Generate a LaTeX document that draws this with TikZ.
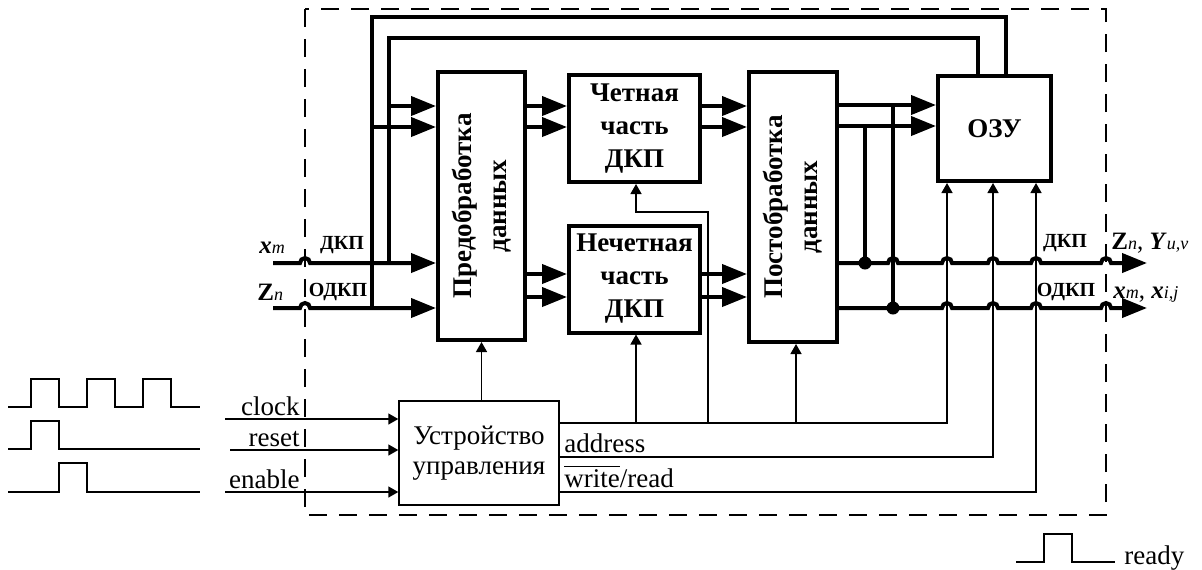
\documentclass[tikz,border=0pt]{standalone}
\usepackage{fontspec}
\setmainfont{Liberation Serif}
\usetikzlibrary{arrows.meta,calc,positioning}

\begin{document}
\begin{tikzpicture}[x=0.5pt,y=0.5pt,>=Triangle]
    \tikzset{
      block/.style={draw,line width=2pt,align=center,inner sep=0pt,font=\fontsize{13.5}{16.5}\selectfont\bfseries},
      vtext/.style={rotate=90,align=center,inner sep=0pt,font=\fontsize{13.5}{17.5}\selectfont\bfseries},
      ctrlbox/.style={draw,line width=0.7pt,align=center,inner sep=0pt,font=\fontsize{13.5}{15}\selectfont},
      bus/.style={line width=2pt},
      busarr/.style={line width=2pt,-{Triangle[length=12.5pt,width=9.5pt]}},
      sig/.style={line width=0.7pt},
      sigarr/.style={line width=0.7pt,-{Triangle[length=5pt,width=5.5pt]}},
      jdot/.style={circle,fill,inner sep=0pt,minimum size=6.5pt},
      lbl/.style={inner sep=0pt,font=\fontsize{13.5}{15}\selectfont},
      buslbl/.style={inner sep=0pt,font=\fontsize{10}{12}\selectfont\bfseries},
      varlbl/.style={inner sep=0pt,anchor=west,font=\fontsize{12.5}{14}\selectfont}
    }
    \useasboundingbox (0,0) rectangle (1202,-569);

    % dashed frame of the device
    \draw[sig,dash pattern=on 9pt off 6pt] (305,-9) rectangle (1106,-515);

    % blocks
    \node[block,minimum width=43.5pt,minimum height=134pt] (pre) at (481.5,-206) {};
    \node[vtext] (pretxt) at (pre.center) {Предобработка\\данных};
    \node[block,minimum width=65.5pt,minimum height=53.5pt] (even) at (634.5,-128.5) {Четная\\часть\\ДКП};
    \node[block,minimum width=65.5pt,minimum height=53.5pt] (odd) at (634.5,-279) {Нечетная\\часть\\ДКП};
    \node[block,minimum width=44pt,minimum height=135pt] (post) at (793,-207) {};
    \node[vtext] (posttxt) at (post.center) {Постобработка\\данных};
    \node[block,minimum width=56.5pt,minimum height=52.5pt] (ram) at (994.5,-128.5) {ОЗУ};
    \node[ctrlbox,minimum width=80pt,minimum height=52pt] (ctrl) at (479,-453) {Устройство\\управления};

    % inputs
    \coordinate (xin) at (273,-263);
    \coordinate (zin) at (273,-308);
    \draw[busarr] (xin) -- (300,-263) arc[start angle=180,end angle=0,radius=2.5pt] -- (pre.west |- xin);
    \draw[busarr] (zin) -- (300,-308) arc[start angle=180,end angle=0,radius=2.5pt] -- (pre.west |- zin);
    \node[buslbl] (inA) at (342,-245) {ДКП};
    \node[buslbl] (inB) at (338,-292) {ОДКП};
    \node[varlbl] (xm) at (259,-248) {\textbf{\textit{x}}{\fontsize{9}{9}\selectfont\itshape m}};
    \node[varlbl] (zn) at (257,-292) {\textbf{Z}{\fontsize{9}{9}\selectfont\itshape n}};

    % feedback from RAM
    \coordinate (fbA) at (389,-38);
    \coordinate (fbB) at (372,-17);
    \draw[bus] (389,-263) -- (fbA) -- (978,-38) -- (978,0 |- ram.north);
    \draw[bus] (372,-308) -- (fbB) -- (1006,-17) -- (1006,0 |- ram.north);
    \draw[busarr] (389,-106) -- (pre.west |- 0,-106);
    \draw[busarr] (372,-127) -- (pre.west |- 0,-127);

    % data path
    \foreach \y in {-106,-127} {
      \draw[busarr] (pre.east |- 0,\y) -- (even.west |- 0,\y);
      \draw[busarr] (even.east |- 0,\y) -- (post.west |- 0,\y);
    }
    \foreach \y in {-274,-297} {
      \draw[busarr] (pre.east |- 0,\y) -- (odd.west |- 0,\y);
      \draw[busarr] (odd.east |- 0,\y) -- (post.west |- 0,\y);
    }
    \foreach \y in {-105,-126} \draw[busarr] (post.east |- 0,\y) -- (ram.west |- 0,\y);

    % control signals
    \draw[sigarr] (pre.south |- ctrl.north) -- (pre.south);
    \draw[sigarr] (ctrl.east |- 0,-423) -| (947,0 |- ram.south);
    \draw[sigarr] (ctrl.east |- 0,-457) -| (993,0 |- ram.south);
    \draw[sigarr] (ctrl.east |- 0,-492) -| (1036,0 |- ram.south);
    \draw[sigarr] (636,-423) -- (636,0 |- odd.south);
    \draw[sigarr] (796,-423) -- (796,0 |- post.south);
    \draw[sigarr] (708,-423) -- (708,-212) -- (636,-212) -- (636,0 |- even.south);
    \node[lbl,anchor=base west] (addr) at (564,-452) {address};
    \node[lbl,anchor=base west] (wr) at (564,-487) {$\overline{\mbox{write}}$/read};

    \draw[sigarr] (225,-419) -- (ctrl.west |- 0,-419);
    \draw[sigarr] (230,-450) -- (ctrl.west |- 0,-450);
    \draw[sigarr] (225,-492) -- (ctrl.west |- 0,-492);
    \node[lbl,anchor=base east] (clk) at (300,-415) {clock};
    \node[lbl,anchor=base east] (rst) at (300,-446) {reset};
    \node[lbl,anchor=base east] (ena) at (300,-488) {enable};

    % outputs
    \coordinate (jA) at (865,-263);
    \coordinate (jB) at (893,-308);
    \draw[bus] (865,-126) -- (jA);
    \draw[bus] (893,-105) -- (jB);
    \draw[busarr] (post.east |- jA) -- (888,-263) arc[start angle=180,end angle=0,radius=2.5pt]
      -- (942,-263) arc[start angle=180,end angle=0,radius=2.5pt]
      -- (988,-263) arc[start angle=180,end angle=0,radius=2.5pt]
      -- (1031,-263) arc[start angle=180,end angle=0,radius=2.5pt]
      -- (1101,-263) arc[start angle=180,end angle=0,radius=2.5pt] -- (1147,-263);
    \draw[busarr] (post.east |- jB) -- (942,-308) arc[start angle=180,end angle=0,radius=2.5pt]
      -- (988,-308) arc[start angle=180,end angle=0,radius=2.5pt]
      -- (1031,-308) arc[start angle=180,end angle=0,radius=2.5pt]
      -- (1101,-308) arc[start angle=180,end angle=0,radius=2.5pt] -- (1147,-308);
    \node[jdot] (dotA) at (jA) {};
    \node[jdot] (dotB) at (jB) {};
    \node[buslbl] (outA) at (1065,-243) {ДКП};
    \node[buslbl] (outB) at (1066,-292) {ОДКП};
    \node[varlbl] (zy) at (1111,-243) {\textbf{Z}{\fontsize{9}{9}\selectfont\itshape n}, \textbf{\textit{Y}}{\fontsize{9}{9}\selectfont\itshape u,v}};
    \node[varlbl] (xx) at (1113,-294) {\textbf{\textit{x}}{\fontsize{9}{9}\selectfont\itshape m}, \textbf{\textit{x}}{\fontsize{9}{9}\selectfont\itshape i,j}};

    % waveforms
    \draw[sig] (8,-407) foreach \t in {31,87,143} { -- (\t,-407) -- (\t,-379) -- (\t+28,-379) -- (\t+28,-407) } -- (200,-407);
    \draw[sig] (8,-449) -- (31,-449) -- (31,-421) -- (59,-421) -- (59,-449) -- (200,-449);
    \draw[sig] (8,-492) -- (59,-492) -- (59,-463) -- (87,-463) -- (87,-492) -- (200,-492);
    \draw[sig] (1016,-562) -- (1044,-562) -- (1044,-534) -- (1072,-534) -- (1072,-562) -- (1115,-562);
    \node[lbl,anchor=base west] (rdy) at (1124,-564) {ready};
\end{tikzpicture}
\end{document}
